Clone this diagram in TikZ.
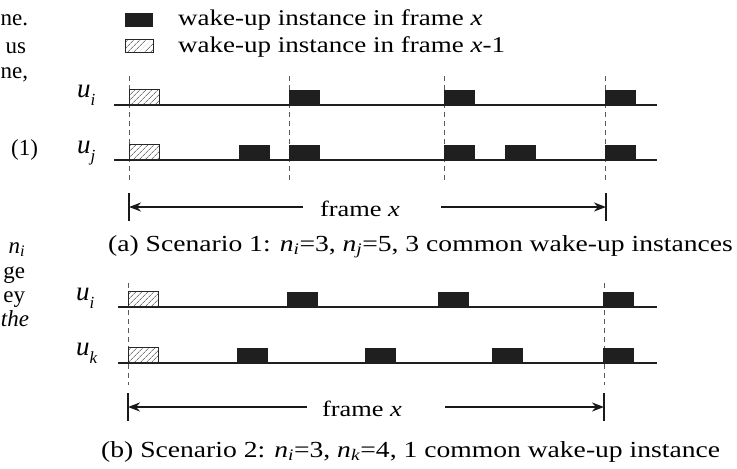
\documentclass[tikz,border=0pt]{standalone}
\usepackage{fontspec}
\setmainfont{Liberation Serif}[FakeStretch=1.2]
\newfontfamily\plainserif{Liberation Serif}
\usetikzlibrary{patterns.meta,arrows.meta}
\newcommand\subv[2]{\textit{#1}\textsubscript{\textit{#2}}}
\newcommand\ulab[2]{\textit{#1}\raisebox{-0.32em}{\fontsize{17}{17}\selectfont\textit{#2}}}
\begin{document}
\begin{tikzpicture}[x=1pt,y=-1pt,
  txt/.style={font=\plainserif\fontsize{23}{26}\selectfont, inner sep=0pt, outer sep=0pt, anchor=base east},
  lgd/.style={font=\fontsize{22.5}{26}\selectfont, inner sep=0pt, anchor=base west},
  captxt/.style={font=\fontsize{23}{28}\selectfont, inner sep=0pt, anchor=base west},
  frtxt/.style={font=\fontsize{22}{26}\selectfont, inner sep=0pt, anchor=center},
  ulabel/.style={font=\plainserif\fontsize{27}{30}\selectfont, inner sep=0pt, anchor=base west},
  axisline/.style={line width=2.3pt, draw=black!88},
  wk/.style={fill=black!88, draw=none, inner sep=0pt, minimum width=31pt, minimum height=15pt, anchor=south west},
  old/.style={draw=black!85, line width=0.8pt, inner sep=0pt, minimum width=30pt, minimum height=15pt, anchor=south west,
     pattern={Lines[angle=45,distance=4pt,line width=0.5pt]}, pattern color=black!80},
  vdash/.style={draw=black!65, dash pattern=on 5pt off 4pt, line width=1pt},
  fbar/.style={line width=1.5pt, draw=black!90},
  farrow/.style={-{Stealth[length=12pt,width=9pt]}, line width=2pt, draw=black!90}
]
\useasboundingbox (0,0) rectangle (737,469);

% cut-off text of the page on the left
\node[txt] (t1) at (28,25) {ne.};
\node[txt] (t2) at (26,53) {us};
\node[txt] (t3) at (28,78) {ne,};
\node[txt] (t4) at (38,155) {(1)};
\node[txt] (t5) at (25,253) {\subv{n}{i}};
\node[txt] (t6) at (25,278) {ge};
\node[txt] (t7) at (25,302) {ey};
\node[txt] (t8) at (29,326) {\textit{the}};

% legend
\node[wk, minimum width=28pt, minimum height=14pt] (lg1) at (125,27) {};
\node[old, minimum width=28pt, minimum height=13pt] (lg2) at (125,53) {};
\node[lgd] (lt1) at (178,25) {wake-up instance in frame \textit{x}};
\node[lgd] (lt2) at (178,52) {wake-up instance in frame \textit{x}-1};

% ---------------- scenario 1 ----------------
\foreach \xx [count=\k] in {129,289,444,605}{
  \coordinate (av\k t) at (\xx,76);
  \coordinate (av\k b) at (\xx,183);
  \draw[vdash] (av\k t) -- (av\k b);
}
\node[ulabel] (aui) at (77,97) {\ulab{u}{i}};
\node[ulabel] (auj) at (77,153) {\ulab{u}{j}};
\coordinate (ai0) at (114,105); \coordinate (ai1) at (657,105);
\coordinate (aj0) at (114,160); \coordinate (aj1) at (657,160);
\draw[axisline] (ai0) -- (ai1);
\draw[axisline] (aj0) -- (aj1);
\node[old] (aih) at (129,105) {};
\node[old] (ajh) at (129,160) {};
\foreach \xx [count=\k] in {289,444,605}{ \node[wk] (ai\k) at (\xx,105) {}; }
\foreach \xx [count=\k] in {239,289,444,505,605}{ \node[wk] (aj\k) at (\xx,160) {}; }

% frame arrow (a)
\coordinate (abl0) at (129,193); \coordinate (abl1) at (129,221);
\coordinate (abr0) at (606,193); \coordinate (abr1) at (606,221);
\draw[fbar] (abl0) -- (abl1);
\draw[fbar] (abr0) -- (abr1);
\node[frtxt] (afr) at (360,209) {frame \textit{x}};
\coordinate (al) at (129,207); \coordinate (ar) at (606,207);
\coordinate (als) at (303,207); \coordinate (ars) at (441,207);
\draw[farrow] (als) -- (al);
\draw[farrow] (ars) -- (ar);
\node[captxt] (capa) at (108,251) {(a) Scenario 1: \subv{n}{i}=3, \subv{n}{j}=5, 3 common wake-up instances};

% ---------------- scenario 2 ----------------
\foreach \xx [count=\k] in {128,604}{
  \coordinate (bv\k t) at (\xx,283);
  \coordinate (bv\k b) at (\xx,385);
  \draw[vdash] (bv\k t) -- (bv\k b);
}
\node[ulabel] (bui) at (76,300) {\ulab{u}{i}};
\node[ulabel] (buk) at (76,355) {\ulab{u}{k}};
\coordinate (bi0) at (118,307); \coordinate (bi1) at (657,307);
\coordinate (bk0) at (118,363); \coordinate (bk1) at (657,363);
\draw[axisline] (bi0) -- (bi1);
\draw[axisline] (bk0) -- (bk1);
\node[old] (bih) at (128,307) {};
\node[old] (bkh) at (128,363) {};
\foreach \xx [count=\k] in {287,438,603}{ \node[wk] (bi\k) at (\xx,307) {}; }
\foreach \xx [count=\k] in {237,365,492,603}{ \node[wk] (bk\k) at (\xx,363) {}; }

% frame arrow (b)
\coordinate (bbl0) at (128,393); \coordinate (bbl1) at (128,421);
\coordinate (bbr0) at (604,393); \coordinate (bbr1) at (604,421);
\draw[fbar] (bbl0) -- (bbl1);
\draw[fbar] (bbr0) -- (bbr1);
\node[frtxt] (bfr) at (362,409) {frame \textit{x}};
\coordinate (bl) at (128,407); \coordinate (br) at (604,407);
\coordinate (bls) at (307,407); \coordinate (brs) at (445,407);
\draw[farrow] (bls) -- (bl);
\draw[farrow] (brs) -- (br);
\node[captxt] (capb) at (101,457) {(b) Scenario 2: \subv{n}{i}=3, \subv{n}{k}=4, 1 common wake-up instance};
\end{tikzpicture}
\end{document}
